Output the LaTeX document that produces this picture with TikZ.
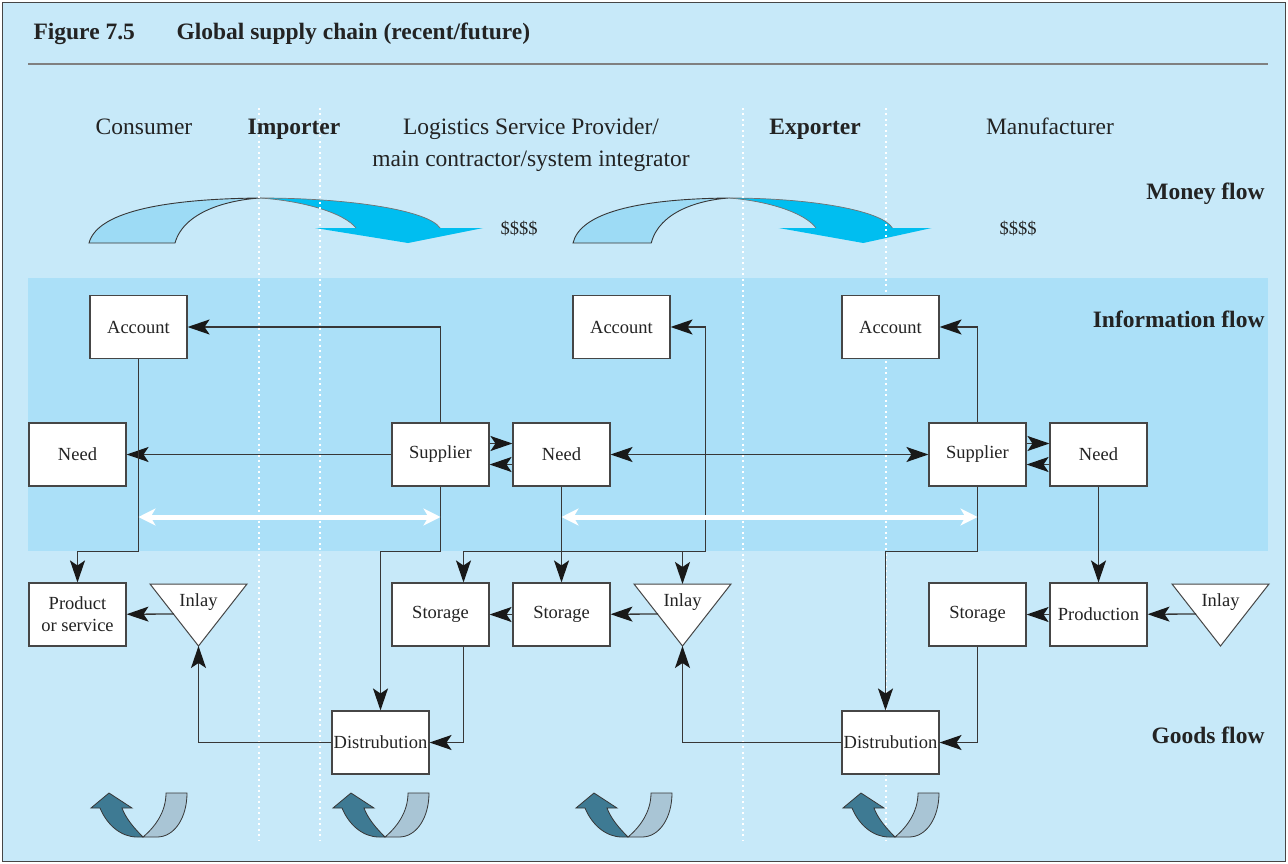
\documentclass[tikz,border=0pt]{standalone}
\usepackage{fontspec}
\setmainfont{Liberation Serif}
\usetikzlibrary{arrows.meta}

\definecolor{bgblue}{RGB}{199,233,249}
\definecolor{bandblue}{RGB}{171,224,248}
\definecolor{skylight}{RGB}{157,219,245}
\definecolor{skydark}{RGB}{0,190,240}
\definecolor{tealdark}{RGB}{62,122,147}
\definecolor{teallight}{RGB}{169,197,213}
\definecolor{linegray}{RGB}{55,55,55}
\definecolor{boxgray}{RGB}{70,70,70}
\definecolor{ink}{RGB}{35,35,35}

\tikzset{
  ctip/.tip={Stealth[length=22pt, width=15pt, inset=5pt, color=black!90]},
  wtip/.tip={Stealth[length=17pt, width=17pt, inset=5pt]},
  %% 三角形 Inlay：原点在上边中点
  inlay/.pic={
    \draw[draw=boxgray, fill=white, line width=1pt] (-48.5,0) -- (48.5,0) -- (0,62) -- cycle;
    \node[text=ink, font=\fontsize{18.5}{22}\selectfont, inner sep=0pt] (-label) at (0,18) {Inlay};
    \coordinate (-top) at (0,0);
    \coordinate (-tip) at (0,62);
    \coordinate (-left) at (-24.5,30);
  },
  %% 资金流大箭头：原点在左下角
  moneyarrow/.pic={
    \filldraw[fill=skylight, draw=linegray, line width=0.9pt]
      (0,0) .. controls (8,-30) and (70,-44) .. (171,-45)
            .. controls (140,-43) and (95,-32) .. (86,0) -- cycle;
    \fill[skydark] (171,-45) .. controls (265,-45) and (340,-32) .. (351,-15)
      -- (394,-15) -- (319,0) -- (226,-15) -- (267,-15)
      .. controls (255,-30) and (215,-42) .. (171,-45) -- cycle;
    \draw[linegray!70, line width=0.7pt] (171,-45) .. controls (265,-45) and (340,-32) .. (351,-15);
    \draw[linegray!70, line width=0.7pt] (267,-15) .. controls (255,-30) and (215,-42) .. (171,-45);
  },
  %% 底部 U 形回转箭头：原点在两条带子的交点
  uturn/.pic={
    \filldraw[fill=tealdark, draw=linegray, line width=0.8pt]
      (-43,-29) .. controls (-36,-12) and (-22,0) .. (-6,0) -- (0,0)
      .. controls (-8,-8) and (-17,-18) .. (-21,-29)
      -- (-11,-29) -- (-34,-44) -- (-52,-29) -- cycle;
    \filldraw[fill=teallight, draw=linegray, line width=0.8pt]
      (0,0) -- (14,0) .. controls (32,0) and (44,-20) .. (44,-44)
      -- (23,-44) .. controls (23,-25) and (12,-10) .. (0,0) -- cycle;
  }
}

\begin{document}
\begin{tikzpicture}[x=1pt, y=-1pt,
    box/.style={draw=boxgray, fill=white, line width=1.1pt, minimum width=97pt,
      minimum height=63pt, inner sep=1pt, text=ink, align=center,
      font=\fontsize{18.5}{22}\selectfont},
    conn/.style={draw=linegray, line width=1.3pt, -ctip},
    bigwhite/.style={draw=white, line width=5pt, wtip-wtip},
    divider/.style={white, line width=2.2pt, dash pattern=on 2pt off 3.5pt},
    head/.style={text=ink, anchor=base, align=center, font=\fontsize{23.5}{31}\selectfont},
    flow/.style={text=ink, anchor=base east, font=\fontsize{23.5}{28}\selectfont\bfseries},
  ]
  \useasboundingbox (0,0) rectangle (1288,864);

  %% ════ 底色与标题 ════
  \filldraw[fill=bgblue, draw=boxgray, line width=1.2pt] (2.5,2.5) rectangle (1285.5,861.5);
  \node[flow, anchor=base west] (fignum) at (30,40) {Figure 7.5};
  \node[flow, anchor=base west] (figtitle) at (173,40) {Global supply chain (recent/future)};
  \draw[gray, line width=1.4pt] (28,64) -- (1268,64);

  % 信息流色带
  \fill[bandblue] (28,278) rectangle (1268,551);

  %% ════ 资金流 ════
  \pic at (89,243) {moneyarrow};
  \pic[xscale=0.91] at (573,243) {moneyarrow};
  \node[text=ink, font=\fontsize{18.5}{22}\selectfont, anchor=base] (cash1) at (519,234) {\$\$\$\$};
  \node[text=ink, font=\fontsize{18.5}{22}\selectfont, anchor=base] (cash2) at (1018,234) {\$\$\$\$};

  % 白色虚线分栏
  \foreach \x in {259,320,743,886}
    \draw[divider] (\x,108) -- (\x,840);

  %% ════ 表头 ════
  \node[head] (consumer) at (144,135) {Consumer};
  \node[head, font=\fontsize{23.5}{28}\selectfont\bfseries] (importer) at (294,135) {Importer};
  \node[head] (lsp) at (531,135) {Logistics Service Provider/};
  \node[head] (lsp2) at (531,167) {main contractor/system integrator};
  \node[head, font=\fontsize{23.5}{28}\selectfont\bfseries] (exporter) at (815,135) {Exporter};
  \node[head] (maker) at (1050,135) {Manufacturer};

  \node[flow] (money) at (1268,199) {Money flow};
  \node[flow] (info) at (1268,327) {Information flow};
  \node[flow] (goods) at (1268,743) {Goods flow};

  %% ════ 方框 ════
  \node[box] (account1) at (138.5,327) {Account};
  \node[box] (account2) at (621.5,327) {Account};
  \node[box] (account3) at (890.5,327) {Account};
  \node[box] (need1) at (77.5,454.5) {Need};
  \node[box] (supplier1) at (440.5,454.5) {Supplier};
  \node[box] (need2) at (561.5,454.5) {Need};
  \node[box] (supplier2) at (977.5,454.5) {Supplier};
  \node[box] (need3) at (1098.5,454.5) {Need};
  \node[box] (product) at (77.5,614.5) {Product\\or service};
  \node[box] (storage1) at (440.5,614.5) {Storage};
  \node[box] (storage2) at (561.5,614.5) {Storage};
  \node[box] (storage3) at (977.5,614.5) {Storage};
  \node[box] (production) at (1098.5,614.5) {Production};
  \node[box] (dist1) at (380.5,742.5) {Distrubution};
  \node[box] (dist2) at (890.5,742.5) {Distrubution};

  \pic (inlay1) at (198.5,584) {inlay};
  \pic (inlay2) at (682.5,584) {inlay};
  \pic (inlay3) at (1220.5,584) {inlay};

  %% ════ 连线 ════
  \coordinate (rail) at (0,551.5);
  \coordinate (hub) at (705.5,551.5);
  \coordinate (band) at (0,517);

  \draw[conn] (supplier1) |- (account1);
  \draw[conn] (supplier1) -- (need1);
  \draw[conn] (account1) -- (account1 |- rail) -| (product);
  \draw[conn] (supplier1) -- (supplier1 |- rail) -| (dist1);
  \draw[conn] ([yshift=11pt]supplier1.east) -- ([yshift=11pt]need2.west);
  \draw[conn] ([yshift=-10pt]need2.west) -- ([yshift=-10pt]supplier1.east);
  \draw[conn, ctip-ctip] (need2) -- (supplier2);

  \draw[conn] (hub) |- (account2);
  \draw[conn] (hub) -| ([xshift=23pt]storage1.north);
  \draw[conn] (inlay2-top |- rail) -- (inlay2-top);
  \draw[conn] (need2) -- (storage2);
  \draw[conn] (storage2) -- (storage1);
  \draw[conn] (inlay2-left) -- (storage2);
  \draw[conn] ([xshift=23pt]storage1.south) |- (dist1);
  \draw[conn] (dist1) -| (inlay1-tip);
  \draw[conn] (inlay1-left) -- (product);

  \draw[conn] (supplier2) |- (account3);
  \draw[conn] ([yshift=11pt]supplier2.east) -- ([yshift=11pt]need3.west);
  \draw[conn] ([yshift=-10pt]need3.west) -- ([yshift=-10pt]supplier2.east);
  \draw[conn] (supplier2) -- (supplier2 |- rail) -| ([xshift=-5pt]dist2.north);
  \draw[conn] (storage3) |- (dist2);
  \draw[conn] (dist2) -| (inlay2-tip);
  \draw[conn] (need3) -- (production);
  \draw[conn] (production) -- (storage3);
  \draw[conn] (inlay3-left) -- (production);

  % 白色双向箭头
  \draw[bigwhite] (account1 |- band) -- (supplier1 |- band);
  \draw[bigwhite] (need2 |- band) -- (supplier2 |- band);

  %% ════ 货物回转箭头 ════
  \foreach \x in {143,385,628,895}
    \pic at (\x,837) {uturn};
\end{tikzpicture}
\end{document}
